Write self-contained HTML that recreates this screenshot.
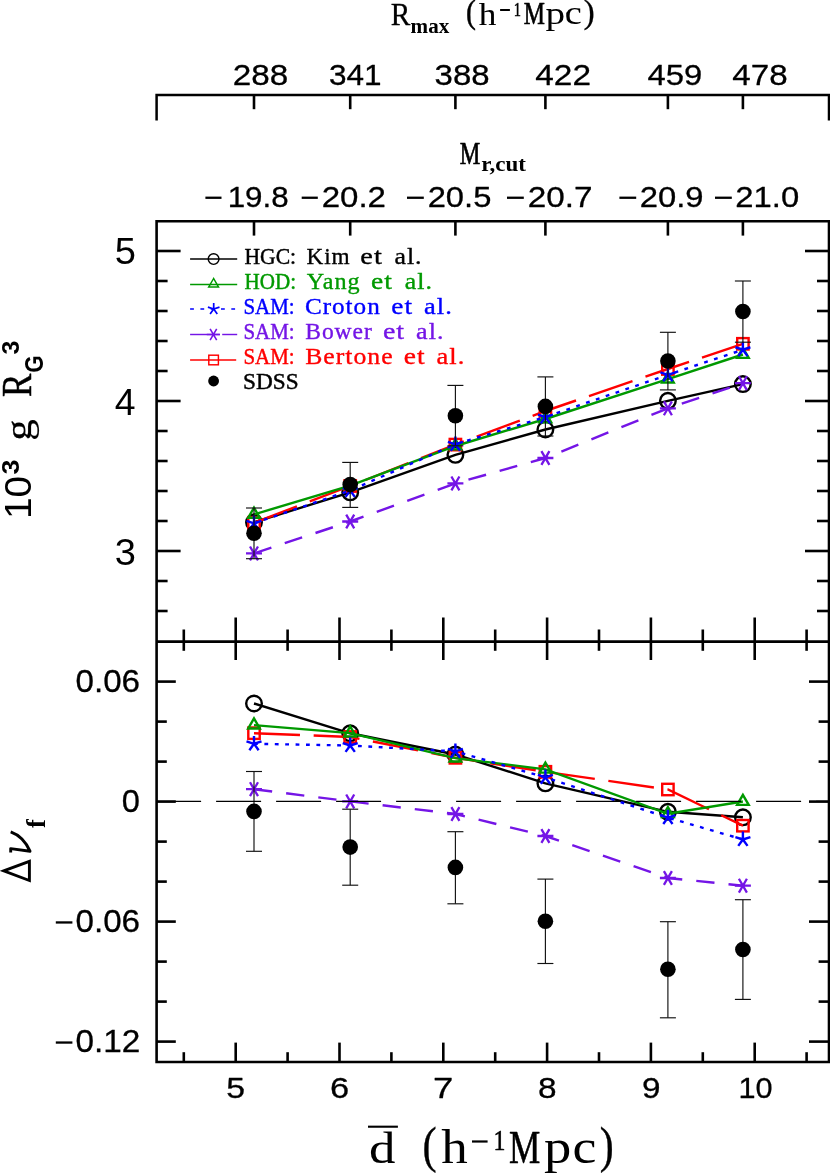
<!DOCTYPE html>
<html><head><meta charset="utf-8"><style>
html,body{margin:0;padding:0;background:#fff;}
svg{display:block;will-change:transform;}
text{white-space:pre;}
</style></head><body>
<svg width="830" height="1174" viewBox="0 0 830 1174">
<rect width="830" height="1174" fill="#fff"/>
<path d="M156.6,120.5 V95.0 H829.0 V120.5" stroke="#000" stroke-width="2.5" fill="none" stroke-linejoin="miter"/>
<path d="M156.6,221.3 H829.0 V1062.0 H156.6 Z" stroke="#000" stroke-width="2.6" fill="none" stroke-linejoin="miter"/>
<line x1="156.60" y1="641.65" x2="829.00" y2="641.65" stroke="#000" stroke-width="2.9" />
<line x1="254.00" y1="95.00" x2="254.00" y2="109.20" stroke="#000" stroke-width="2.6" />
<line x1="254.00" y1="221.30" x2="254.00" y2="235.60" stroke="#000" stroke-width="2.6" />
<line x1="350.20" y1="95.00" x2="350.20" y2="109.20" stroke="#000" stroke-width="2.6" />
<line x1="350.20" y1="221.30" x2="350.20" y2="235.60" stroke="#000" stroke-width="2.6" />
<line x1="455.40" y1="95.00" x2="455.40" y2="109.20" stroke="#000" stroke-width="2.6" />
<line x1="455.40" y1="221.30" x2="455.40" y2="235.60" stroke="#000" stroke-width="2.6" />
<line x1="545.40" y1="95.00" x2="545.40" y2="109.20" stroke="#000" stroke-width="2.6" />
<line x1="545.40" y1="221.30" x2="545.40" y2="235.60" stroke="#000" stroke-width="2.6" />
<line x1="667.90" y1="95.00" x2="667.90" y2="109.20" stroke="#000" stroke-width="2.6" />
<line x1="667.90" y1="221.30" x2="667.90" y2="235.60" stroke="#000" stroke-width="2.6" />
<line x1="742.90" y1="95.00" x2="742.90" y2="109.20" stroke="#000" stroke-width="2.6" />
<line x1="742.90" y1="221.30" x2="742.90" y2="235.60" stroke="#000" stroke-width="2.6" />
<line x1="183.80" y1="629.50" x2="183.80" y2="650.80" stroke="#000" stroke-width="2.6" />
<line x1="183.80" y1="1062.00" x2="183.80" y2="1052.20" stroke="#000" stroke-width="2.6" />
<line x1="235.70" y1="617.50" x2="235.70" y2="660.00" stroke="#000" stroke-width="2.6" />
<line x1="235.70" y1="1062.00" x2="235.70" y2="1042.60" stroke="#000" stroke-width="2.6" />
<line x1="287.60" y1="629.50" x2="287.60" y2="650.80" stroke="#000" stroke-width="2.6" />
<line x1="287.60" y1="1062.00" x2="287.60" y2="1052.20" stroke="#000" stroke-width="2.6" />
<line x1="339.50" y1="617.50" x2="339.50" y2="660.00" stroke="#000" stroke-width="2.6" />
<line x1="339.50" y1="1062.00" x2="339.50" y2="1042.60" stroke="#000" stroke-width="2.6" />
<line x1="391.40" y1="629.50" x2="391.40" y2="650.80" stroke="#000" stroke-width="2.6" />
<line x1="391.40" y1="1062.00" x2="391.40" y2="1052.20" stroke="#000" stroke-width="2.6" />
<line x1="443.30" y1="617.50" x2="443.30" y2="660.00" stroke="#000" stroke-width="2.6" />
<line x1="443.30" y1="1062.00" x2="443.30" y2="1042.60" stroke="#000" stroke-width="2.6" />
<line x1="495.20" y1="629.50" x2="495.20" y2="650.80" stroke="#000" stroke-width="2.6" />
<line x1="495.20" y1="1062.00" x2="495.20" y2="1052.20" stroke="#000" stroke-width="2.6" />
<line x1="547.10" y1="617.50" x2="547.10" y2="660.00" stroke="#000" stroke-width="2.6" />
<line x1="547.10" y1="1062.00" x2="547.10" y2="1042.60" stroke="#000" stroke-width="2.6" />
<line x1="599.00" y1="629.50" x2="599.00" y2="650.80" stroke="#000" stroke-width="2.6" />
<line x1="599.00" y1="1062.00" x2="599.00" y2="1052.20" stroke="#000" stroke-width="2.6" />
<line x1="650.90" y1="617.50" x2="650.90" y2="660.00" stroke="#000" stroke-width="2.6" />
<line x1="650.90" y1="1062.00" x2="650.90" y2="1042.60" stroke="#000" stroke-width="2.6" />
<line x1="702.80" y1="629.50" x2="702.80" y2="650.80" stroke="#000" stroke-width="2.6" />
<line x1="702.80" y1="1062.00" x2="702.80" y2="1052.20" stroke="#000" stroke-width="2.6" />
<line x1="754.70" y1="617.50" x2="754.70" y2="660.00" stroke="#000" stroke-width="2.6" />
<line x1="754.70" y1="1062.00" x2="754.70" y2="1042.60" stroke="#000" stroke-width="2.6" />
<line x1="806.60" y1="629.50" x2="806.60" y2="650.80" stroke="#000" stroke-width="2.6" />
<line x1="806.60" y1="1062.00" x2="806.60" y2="1052.20" stroke="#000" stroke-width="2.6" />
<line x1="156.60" y1="251.00" x2="180.60" y2="251.00" stroke="#000" stroke-width="2.6" />
<line x1="829.00" y1="251.00" x2="805.00" y2="251.00" stroke="#000" stroke-width="2.6" />
<line x1="156.60" y1="281.00" x2="167.60" y2="281.00" stroke="#000" stroke-width="2.6" />
<line x1="829.00" y1="281.00" x2="817.00" y2="281.00" stroke="#000" stroke-width="2.6" />
<line x1="156.60" y1="311.00" x2="167.60" y2="311.00" stroke="#000" stroke-width="2.6" />
<line x1="829.00" y1="311.00" x2="817.00" y2="311.00" stroke="#000" stroke-width="2.6" />
<line x1="156.60" y1="341.00" x2="167.60" y2="341.00" stroke="#000" stroke-width="2.6" />
<line x1="829.00" y1="341.00" x2="817.00" y2="341.00" stroke="#000" stroke-width="2.6" />
<line x1="156.60" y1="371.00" x2="167.60" y2="371.00" stroke="#000" stroke-width="2.6" />
<line x1="829.00" y1="371.00" x2="817.00" y2="371.00" stroke="#000" stroke-width="2.6" />
<line x1="156.60" y1="401.00" x2="180.60" y2="401.00" stroke="#000" stroke-width="2.6" />
<line x1="829.00" y1="401.00" x2="805.00" y2="401.00" stroke="#000" stroke-width="2.6" />
<line x1="156.60" y1="431.00" x2="167.60" y2="431.00" stroke="#000" stroke-width="2.6" />
<line x1="829.00" y1="431.00" x2="817.00" y2="431.00" stroke="#000" stroke-width="2.6" />
<line x1="156.60" y1="461.00" x2="167.60" y2="461.00" stroke="#000" stroke-width="2.6" />
<line x1="829.00" y1="461.00" x2="817.00" y2="461.00" stroke="#000" stroke-width="2.6" />
<line x1="156.60" y1="491.00" x2="167.60" y2="491.00" stroke="#000" stroke-width="2.6" />
<line x1="829.00" y1="491.00" x2="817.00" y2="491.00" stroke="#000" stroke-width="2.6" />
<line x1="156.60" y1="521.00" x2="167.60" y2="521.00" stroke="#000" stroke-width="2.6" />
<line x1="829.00" y1="521.00" x2="817.00" y2="521.00" stroke="#000" stroke-width="2.6" />
<line x1="156.60" y1="551.00" x2="180.60" y2="551.00" stroke="#000" stroke-width="2.6" />
<line x1="829.00" y1="551.00" x2="805.00" y2="551.00" stroke="#000" stroke-width="2.6" />
<line x1="156.60" y1="581.00" x2="167.60" y2="581.00" stroke="#000" stroke-width="2.6" />
<line x1="829.00" y1="581.00" x2="817.00" y2="581.00" stroke="#000" stroke-width="2.6" />
<line x1="156.60" y1="611.00" x2="167.60" y2="611.00" stroke="#000" stroke-width="2.6" />
<line x1="829.00" y1="611.00" x2="817.00" y2="611.00" stroke="#000" stroke-width="2.6" />
<line x1="156.60" y1="681.60" x2="175.80" y2="681.60" stroke="#000" stroke-width="2.6" />
<line x1="829.00" y1="681.60" x2="809.00" y2="681.60" stroke="#000" stroke-width="2.6" />
<line x1="156.60" y1="721.60" x2="166.80" y2="721.60" stroke="#000" stroke-width="2.6" />
<line x1="829.00" y1="721.60" x2="818.60" y2="721.60" stroke="#000" stroke-width="2.6" />
<line x1="156.60" y1="761.60" x2="166.80" y2="761.60" stroke="#000" stroke-width="2.6" />
<line x1="829.00" y1="761.60" x2="818.60" y2="761.60" stroke="#000" stroke-width="2.6" />
<line x1="156.60" y1="801.60" x2="175.80" y2="801.60" stroke="#000" stroke-width="2.6" />
<line x1="829.00" y1="801.60" x2="809.00" y2="801.60" stroke="#000" stroke-width="2.6" />
<line x1="156.60" y1="841.60" x2="166.80" y2="841.60" stroke="#000" stroke-width="2.6" />
<line x1="829.00" y1="841.60" x2="818.60" y2="841.60" stroke="#000" stroke-width="2.6" />
<line x1="156.60" y1="881.60" x2="166.80" y2="881.60" stroke="#000" stroke-width="2.6" />
<line x1="829.00" y1="881.60" x2="818.60" y2="881.60" stroke="#000" stroke-width="2.6" />
<line x1="156.60" y1="921.60" x2="175.80" y2="921.60" stroke="#000" stroke-width="2.6" />
<line x1="829.00" y1="921.60" x2="809.00" y2="921.60" stroke="#000" stroke-width="2.6" />
<line x1="156.60" y1="961.60" x2="166.80" y2="961.60" stroke="#000" stroke-width="2.6" />
<line x1="829.00" y1="961.60" x2="818.60" y2="961.60" stroke="#000" stroke-width="2.6" />
<line x1="156.60" y1="1001.60" x2="166.80" y2="1001.60" stroke="#000" stroke-width="2.6" />
<line x1="829.00" y1="1001.60" x2="818.60" y2="1001.60" stroke="#000" stroke-width="2.6" />
<line x1="156.60" y1="1041.60" x2="175.80" y2="1041.60" stroke="#000" stroke-width="2.6" />
<line x1="829.00" y1="1041.60" x2="809.00" y2="1041.60" stroke="#000" stroke-width="2.6" />
<polyline points="254.0,522.3 350.2,492.3 455.4,454.8 545.4,429.5 667.9,400.8 742.9,384.1" fill="none" stroke="#000" stroke-width="2.4"  stroke-dashoffset="0"/>
<circle cx="254.0" cy="522.3" r="7.8" fill="none" stroke="#000" stroke-width="2.4"/>
<circle cx="350.2" cy="492.3" r="7.8" fill="none" stroke="#000" stroke-width="2.4"/>
<circle cx="455.4" cy="454.8" r="7.8" fill="none" stroke="#000" stroke-width="2.4"/>
<circle cx="545.4" cy="429.5" r="7.8" fill="none" stroke="#000" stroke-width="2.4"/>
<circle cx="667.9" cy="400.8" r="7.8" fill="none" stroke="#000" stroke-width="2.4"/>
<circle cx="742.9" cy="384.1" r="7.8" fill="none" stroke="#000" stroke-width="2.4"/>
<polyline points="254.0,522.8 350.2,486.0 455.4,444.6 545.4,411.0 667.9,369.0 742.9,343.8" fill="none" stroke="#ff0000" stroke-width="2.4" stroke-dasharray="46 13.7" stroke-dashoffset="0"/>
<rect x="248.30" y="517.10" width="11.4" height="11.4" fill="none" stroke="#ff0000" stroke-width="2.4"/>
<rect x="344.50" y="480.30" width="11.4" height="11.4" fill="none" stroke="#ff0000" stroke-width="2.4"/>
<rect x="449.70" y="438.90" width="11.4" height="11.4" fill="none" stroke="#ff0000" stroke-width="2.4"/>
<rect x="539.70" y="405.30" width="11.4" height="11.4" fill="none" stroke="#ff0000" stroke-width="2.4"/>
<rect x="662.20" y="363.30" width="11.4" height="11.4" fill="none" stroke="#ff0000" stroke-width="2.4"/>
<rect x="737.20" y="338.10" width="11.4" height="11.4" fill="none" stroke="#ff0000" stroke-width="2.4"/>
<polyline points="254.0,514.4 350.2,485.7 455.4,446.0 545.4,419.0 667.9,379.1 742.9,354.5" fill="none" stroke="#009900" stroke-width="2.4"  stroke-dashoffset="0"/>
<polygon points="254.00,507.70 248.20,517.75 259.80,517.75" fill="none" stroke="#009900" stroke-width="2.4" stroke-linejoin="miter"/>
<polygon points="350.20,479.00 344.40,489.05 356.00,489.05" fill="none" stroke="#009900" stroke-width="2.4" stroke-linejoin="miter"/>
<polygon points="455.40,439.30 449.60,449.35 461.20,449.35" fill="none" stroke="#009900" stroke-width="2.4" stroke-linejoin="miter"/>
<polygon points="545.40,412.30 539.60,422.35 551.20,422.35" fill="none" stroke="#009900" stroke-width="2.4" stroke-linejoin="miter"/>
<polygon points="667.90,372.40 662.10,382.45 673.70,382.45" fill="none" stroke="#009900" stroke-width="2.4" stroke-linejoin="miter"/>
<polygon points="742.90,347.80 737.10,357.85 748.70,357.85" fill="none" stroke="#009900" stroke-width="2.4" stroke-linejoin="miter"/>
<polyline points="254.0,523.3 350.2,490.5 455.4,444.3 545.4,417.0 667.9,374.8 742.9,349.7" fill="none" stroke="#0000ff" stroke-width="2.4" stroke-dasharray="3.8 6.6" stroke-dashoffset="0"/>
<path d="M254.00,523.30L254.00,515.40M254.00,523.30L261.51,520.86M254.00,523.30L258.64,529.69M254.00,523.30L249.36,529.69M254.00,523.30L246.49,520.86" stroke="#0000ff" stroke-width="2.4" fill="none"/>
<path d="M350.20,490.50L350.20,482.60M350.20,490.50L357.71,488.06M350.20,490.50L354.84,496.89M350.20,490.50L345.56,496.89M350.20,490.50L342.69,488.06" stroke="#0000ff" stroke-width="2.4" fill="none"/>
<path d="M455.40,444.30L455.40,436.40M455.40,444.30L462.91,441.86M455.40,444.30L460.04,450.69M455.40,444.30L450.76,450.69M455.40,444.30L447.89,441.86" stroke="#0000ff" stroke-width="2.4" fill="none"/>
<path d="M545.40,417.00L545.40,409.10M545.40,417.00L552.91,414.56M545.40,417.00L550.04,423.39M545.40,417.00L540.76,423.39M545.40,417.00L537.89,414.56" stroke="#0000ff" stroke-width="2.4" fill="none"/>
<path d="M667.90,374.80L667.90,366.90M667.90,374.80L675.41,372.36M667.90,374.80L672.54,381.19M667.90,374.80L663.26,381.19M667.90,374.80L660.39,372.36" stroke="#0000ff" stroke-width="2.4" fill="none"/>
<path d="M742.90,349.70L742.90,341.80M742.90,349.70L750.41,347.26M742.90,349.70L747.54,356.09M742.90,349.70L738.26,356.09M742.90,349.70L735.39,347.26" stroke="#0000ff" stroke-width="2.4" fill="none"/>
<polyline points="254.0,553.4 350.2,521.5 455.4,483.4 545.4,458.0 667.9,408.3 742.9,383.2" fill="none" stroke="#7415e6" stroke-width="2.4" stroke-dasharray="18.3 14.1" stroke-dashoffset="0"/>
<path d="M246.00,553.40L262.00,553.40M250.00,546.47L258.00,560.33M258.00,546.47L250.00,560.33" stroke="#7415e6" stroke-width="2.3" fill="none"/>
<path d="M342.20,521.50L358.20,521.50M346.20,514.57L354.20,528.43M354.20,514.57L346.20,528.43" stroke="#7415e6" stroke-width="2.3" fill="none"/>
<path d="M447.40,483.40L463.40,483.40M451.40,476.47L459.40,490.33M459.40,476.47L451.40,490.33" stroke="#7415e6" stroke-width="2.3" fill="none"/>
<path d="M537.40,458.00L553.40,458.00M541.40,451.07L549.40,464.93M549.40,451.07L541.40,464.93" stroke="#7415e6" stroke-width="2.3" fill="none"/>
<path d="M659.90,408.30L675.90,408.30M663.90,401.37L671.90,415.23M671.90,401.37L663.90,415.23" stroke="#7415e6" stroke-width="2.3" fill="none"/>
<path d="M734.90,383.20L750.90,383.20M738.90,376.27L746.90,390.13M746.90,376.27L738.90,390.13" stroke="#7415e6" stroke-width="2.3" fill="none"/>
<line x1="254.00" y1="508.00" x2="254.00" y2="558.70" stroke="#111" stroke-width="1.15" />
<line x1="246.00" y1="508.00" x2="262.00" y2="508.00" stroke="#111" stroke-width="1.15" />
<line x1="246.00" y1="558.70" x2="262.00" y2="558.70" stroke="#111" stroke-width="1.15" />
<line x1="350.20" y1="462.40" x2="350.20" y2="507.40" stroke="#111" stroke-width="1.15" />
<line x1="342.20" y1="462.40" x2="358.20" y2="462.40" stroke="#111" stroke-width="1.15" />
<line x1="342.20" y1="507.40" x2="358.20" y2="507.40" stroke="#111" stroke-width="1.15" />
<line x1="455.40" y1="385.40" x2="455.40" y2="445.80" stroke="#111" stroke-width="1.15" />
<line x1="447.40" y1="385.40" x2="463.40" y2="385.40" stroke="#111" stroke-width="1.15" />
<line x1="447.40" y1="445.80" x2="463.40" y2="445.80" stroke="#111" stroke-width="1.15" />
<line x1="545.40" y1="376.90" x2="545.40" y2="436.00" stroke="#111" stroke-width="1.15" />
<line x1="537.40" y1="376.90" x2="553.40" y2="376.90" stroke="#111" stroke-width="1.15" />
<line x1="537.40" y1="436.00" x2="553.40" y2="436.00" stroke="#111" stroke-width="1.15" />
<line x1="667.90" y1="332.30" x2="667.90" y2="389.90" stroke="#111" stroke-width="1.15" />
<line x1="659.90" y1="332.30" x2="675.90" y2="332.30" stroke="#111" stroke-width="1.15" />
<line x1="659.90" y1="389.90" x2="675.90" y2="389.90" stroke="#111" stroke-width="1.15" />
<line x1="742.90" y1="281.00" x2="742.90" y2="342.20" stroke="#111" stroke-width="1.15" />
<line x1="734.90" y1="281.00" x2="750.90" y2="281.00" stroke="#111" stroke-width="1.15" />
<line x1="734.90" y1="342.20" x2="750.90" y2="342.20" stroke="#111" stroke-width="1.15" />
<circle cx="254.0" cy="533.3" r="7.8" fill="#000"/>
<circle cx="350.2" cy="484.6" r="7.8" fill="#000"/>
<circle cx="455.4" cy="415.8" r="7.8" fill="#000"/>
<circle cx="545.4" cy="406.4" r="7.8" fill="#000"/>
<circle cx="667.9" cy="361.0" r="7.8" fill="#000"/>
<circle cx="742.9" cy="311.5" r="7.8" fill="#000"/>
<polyline points="254.0,703.5 350.2,733.3 455.4,754.5 545.4,783.3 667.9,811.8 742.9,817.3" fill="none" stroke="#000" stroke-width="2.4"  stroke-dashoffset="0"/>
<circle cx="254.0" cy="703.5" r="7.8" fill="none" stroke="#000" stroke-width="2.4"/>
<circle cx="350.2" cy="733.3" r="7.8" fill="none" stroke="#000" stroke-width="2.4"/>
<circle cx="455.4" cy="754.5" r="7.8" fill="none" stroke="#000" stroke-width="2.4"/>
<circle cx="545.4" cy="783.3" r="7.8" fill="none" stroke="#000" stroke-width="2.4"/>
<circle cx="667.9" cy="811.8" r="7.8" fill="none" stroke="#000" stroke-width="2.4"/>
<circle cx="742.9" cy="817.3" r="7.8" fill="none" stroke="#000" stroke-width="2.4"/>
<polyline points="254.0,733.2 350.2,737.0 455.4,757.8 545.4,771.8 667.9,789.5 742.9,825.7" fill="none" stroke="#ff0000" stroke-width="2.4" stroke-dasharray="46 13.7" stroke-dashoffset="0"/>
<rect x="248.30" y="727.50" width="11.4" height="11.4" fill="none" stroke="#ff0000" stroke-width="2.4"/>
<rect x="344.50" y="731.30" width="11.4" height="11.4" fill="none" stroke="#ff0000" stroke-width="2.4"/>
<rect x="449.70" y="752.10" width="11.4" height="11.4" fill="none" stroke="#ff0000" stroke-width="2.4"/>
<rect x="539.70" y="766.10" width="11.4" height="11.4" fill="none" stroke="#ff0000" stroke-width="2.4"/>
<rect x="662.20" y="783.80" width="11.4" height="11.4" fill="none" stroke="#ff0000" stroke-width="2.4"/>
<rect x="737.20" y="820.00" width="11.4" height="11.4" fill="none" stroke="#ff0000" stroke-width="2.4"/>
<polyline points="254.0,725.1 350.2,733.1 455.4,758.1 545.4,769.3 667.9,813.8 742.9,801.5" fill="none" stroke="#009900" stroke-width="2.4"  stroke-dashoffset="0"/>
<polygon points="254.00,718.40 248.20,728.45 259.80,728.45" fill="none" stroke="#009900" stroke-width="2.4" stroke-linejoin="miter"/>
<polygon points="350.20,726.40 344.40,736.45 356.00,736.45" fill="none" stroke="#009900" stroke-width="2.4" stroke-linejoin="miter"/>
<polygon points="455.40,751.40 449.60,761.45 461.20,761.45" fill="none" stroke="#009900" stroke-width="2.4" stroke-linejoin="miter"/>
<polygon points="545.40,762.60 539.60,772.65 551.20,772.65" fill="none" stroke="#009900" stroke-width="2.4" stroke-linejoin="miter"/>
<polygon points="667.90,807.10 662.10,817.15 673.70,817.15" fill="none" stroke="#009900" stroke-width="2.4" stroke-linejoin="miter"/>
<polygon points="742.90,794.80 737.10,804.85 748.70,804.85" fill="none" stroke="#009900" stroke-width="2.4" stroke-linejoin="miter"/>
<polyline points="254.0,743.8 350.2,745.5 455.4,751.4 545.4,777.4 667.9,817.6 742.9,839.5" fill="none" stroke="#0000ff" stroke-width="2.4" stroke-dasharray="3.8 6.6" stroke-dashoffset="0"/>
<path d="M254.00,743.80L254.00,735.90M254.00,743.80L261.51,741.36M254.00,743.80L258.64,750.19M254.00,743.80L249.36,750.19M254.00,743.80L246.49,741.36" stroke="#0000ff" stroke-width="2.4" fill="none"/>
<path d="M350.20,745.50L350.20,737.60M350.20,745.50L357.71,743.06M350.20,745.50L354.84,751.89M350.20,745.50L345.56,751.89M350.20,745.50L342.69,743.06" stroke="#0000ff" stroke-width="2.4" fill="none"/>
<path d="M455.40,751.40L455.40,743.50M455.40,751.40L462.91,748.96M455.40,751.40L460.04,757.79M455.40,751.40L450.76,757.79M455.40,751.40L447.89,748.96" stroke="#0000ff" stroke-width="2.4" fill="none"/>
<path d="M545.40,777.40L545.40,769.50M545.40,777.40L552.91,774.96M545.40,777.40L550.04,783.79M545.40,777.40L540.76,783.79M545.40,777.40L537.89,774.96" stroke="#0000ff" stroke-width="2.4" fill="none"/>
<path d="M667.90,817.60L667.90,809.70M667.90,817.60L675.41,815.16M667.90,817.60L672.54,823.99M667.90,817.60L663.26,823.99M667.90,817.60L660.39,815.16" stroke="#0000ff" stroke-width="2.4" fill="none"/>
<path d="M742.90,839.50L742.90,831.60M742.90,839.50L750.41,837.06M742.90,839.50L747.54,845.89M742.90,839.50L738.26,845.89M742.90,839.50L735.39,837.06" stroke="#0000ff" stroke-width="2.4" fill="none"/>
<polyline points="254.0,789.2 350.2,801.4 455.4,814.0 545.4,836.0 667.9,878.0 742.9,885.7" fill="none" stroke="#7415e6" stroke-width="2.4" stroke-dasharray="18.3 14.1" stroke-dashoffset="0"/>
<path d="M246.00,789.20L262.00,789.20M250.00,782.27L258.00,796.13M258.00,782.27L250.00,796.13" stroke="#7415e6" stroke-width="2.3" fill="none"/>
<path d="M342.20,801.40L358.20,801.40M346.20,794.47L354.20,808.33M354.20,794.47L346.20,808.33" stroke="#7415e6" stroke-width="2.3" fill="none"/>
<path d="M447.40,814.00L463.40,814.00M451.40,807.07L459.40,820.93M459.40,807.07L451.40,820.93" stroke="#7415e6" stroke-width="2.3" fill="none"/>
<path d="M537.40,836.00L553.40,836.00M541.40,829.07L549.40,842.93M549.40,829.07L541.40,842.93" stroke="#7415e6" stroke-width="2.3" fill="none"/>
<path d="M659.90,878.00L675.90,878.00M663.90,871.07L671.90,884.93M671.90,871.07L663.90,884.93" stroke="#7415e6" stroke-width="2.3" fill="none"/>
<path d="M734.90,885.70L750.90,885.70M738.90,878.77L746.90,892.63M746.90,878.77L738.90,892.63" stroke="#7415e6" stroke-width="2.3" fill="none"/>
<line x1="254.00" y1="771.50" x2="254.00" y2="851.30" stroke="#111" stroke-width="1.15" />
<line x1="246.00" y1="771.50" x2="262.00" y2="771.50" stroke="#111" stroke-width="1.15" />
<line x1="246.00" y1="851.30" x2="262.00" y2="851.30" stroke="#111" stroke-width="1.15" />
<line x1="350.20" y1="809.20" x2="350.20" y2="885.20" stroke="#111" stroke-width="1.15" />
<line x1="342.20" y1="809.20" x2="358.20" y2="809.20" stroke="#111" stroke-width="1.15" />
<line x1="342.20" y1="885.20" x2="358.20" y2="885.20" stroke="#111" stroke-width="1.15" />
<line x1="455.40" y1="831.70" x2="455.40" y2="903.80" stroke="#111" stroke-width="1.15" />
<line x1="447.40" y1="831.70" x2="463.40" y2="831.70" stroke="#111" stroke-width="1.15" />
<line x1="447.40" y1="903.80" x2="463.40" y2="903.80" stroke="#111" stroke-width="1.15" />
<line x1="545.40" y1="879.10" x2="545.40" y2="963.50" stroke="#111" stroke-width="1.15" />
<line x1="537.40" y1="879.10" x2="553.40" y2="879.10" stroke="#111" stroke-width="1.15" />
<line x1="537.40" y1="963.50" x2="553.40" y2="963.50" stroke="#111" stroke-width="1.15" />
<line x1="667.90" y1="921.70" x2="667.90" y2="1017.80" stroke="#111" stroke-width="1.15" />
<line x1="659.90" y1="921.70" x2="675.90" y2="921.70" stroke="#111" stroke-width="1.15" />
<line x1="659.90" y1="1017.80" x2="675.90" y2="1017.80" stroke="#111" stroke-width="1.15" />
<line x1="742.90" y1="899.70" x2="742.90" y2="999.40" stroke="#111" stroke-width="1.15" />
<line x1="734.90" y1="899.70" x2="750.90" y2="899.70" stroke="#111" stroke-width="1.15" />
<line x1="734.90" y1="999.40" x2="750.90" y2="999.40" stroke="#111" stroke-width="1.15" />
<circle cx="254.0" cy="811.4" r="7.8" fill="#000"/>
<circle cx="350.2" cy="847.1" r="7.8" fill="#000"/>
<circle cx="455.4" cy="867.4" r="7.8" fill="#000"/>
<circle cx="545.4" cy="921.3" r="7.8" fill="#000"/>
<circle cx="667.9" cy="969.2" r="7.8" fill="#000"/>
<circle cx="742.9" cy="949.5" r="7.8" fill="#000"/>
<line x1="156.60" y1="801.30" x2="829.00" y2="801.30" stroke="#000" stroke-width="1.2" stroke-dasharray="45 15" stroke-dashoffset="0.5"/>
<line x1="190.10" y1="259.00" x2="237.20" y2="259.00" stroke="#000" stroke-width="1.45" />
<circle cx="213.6" cy="259.0" r="5.35" fill="none" stroke="#000" stroke-width="1.45"/>
<line x1="190.10" y1="284.40" x2="237.20" y2="284.40" stroke="#009900" stroke-width="1.45" />
<polygon points="213.60,278.50 208.66,287.05 218.54,287.05" fill="none" stroke="#009900" stroke-width="1.45" stroke-linejoin="miter"/>
<line x1="190.10" y1="309.00" x2="237.20" y2="309.00" stroke="#0000ff" stroke-width="1.45" stroke-dasharray="3.8 6.5"/>
<path d="M213.70,309.00L213.70,302.90M213.70,309.00L219.50,307.11M213.70,309.00L217.29,313.94M213.70,309.00L210.11,313.94M213.70,309.00L207.90,307.11" stroke="#0000ff" stroke-width="1.7" fill="none"/>
<line x1="190.10" y1="334.50" x2="219.70" y2="334.50" stroke="#7415e6" stroke-width="1.45" />
<line x1="222.20" y1="334.50" x2="237.20" y2="334.50" stroke="#7415e6" stroke-width="1.45" />
<path d="M206.80,334.50L220.00,334.50M210.10,328.78L216.70,340.22M216.70,328.78L210.10,340.22" stroke="#7415e6" stroke-width="1.6" fill="none"/>
<line x1="190.10" y1="360.00" x2="236.20" y2="360.00" stroke="#ff0000" stroke-width="1.45" />
<rect x="208.80" y="355.20" width="9.6" height="9.6" fill="none" stroke="#ff0000" stroke-width="1.45"/>
<circle cx="213.6" cy="381.0" r="5.4" fill="#000"/>
<text transform="translate(244.40,264.00) scale(0.9493,1)" font-family="Liberation Serif" font-size="22.80" font-weight="normal" font-style="normal" fill="#000"  stroke="#000" stroke-width="0.45" stroke-linejoin="round">HGC:</text>
<text transform="translate(306.46,264.00) scale(1.0204,1)" font-family="Liberation Serif" font-size="22.80" font-weight="normal" font-style="normal" fill="#000"  stroke="#000" stroke-width="0.35" stroke-linejoin="round" letter-spacing="0.9">Kim</text>
<text transform="translate(360.27,264.00) scale(1.2418,1)" font-family="Liberation Serif" font-size="22.80" font-weight="normal" font-style="normal" fill="#000"  stroke="#000" stroke-width="0.35" stroke-linejoin="round" letter-spacing="0.9">et</text>
<text transform="translate(394.40,264.00) scale(1.1340,1)" font-family="Liberation Serif" font-size="22.80" font-weight="normal" font-style="normal" fill="#000"  stroke="#000" stroke-width="0.35" stroke-linejoin="round" letter-spacing="0.9">al.</text>
<text transform="translate(244.42,289.00) scale(0.9269,1)" font-family="Liberation Serif" font-size="22.80" font-weight="normal" font-style="normal" fill="#009900"  stroke="#009900" stroke-width="0.45" stroke-linejoin="round">HOD:</text>
<text transform="translate(306.86,289.00) scale(1.0591,1)" font-family="Liberation Serif" font-size="22.80" font-weight="normal" font-style="normal" fill="#009900"  stroke="#009900" stroke-width="0.35" stroke-linejoin="round" letter-spacing="0.9">Yang</text>
<text transform="translate(371.00,289.00) scale(1.2051,1)" font-family="Liberation Serif" font-size="22.80" font-weight="normal" font-style="normal" fill="#009900"  stroke="#009900" stroke-width="0.35" stroke-linejoin="round" letter-spacing="0.9">et</text>
<text transform="translate(404.80,289.00) scale(1.1340,1)" font-family="Liberation Serif" font-size="22.80" font-weight="normal" font-style="normal" fill="#009900"  stroke="#009900" stroke-width="0.35" stroke-linejoin="round" letter-spacing="0.9">al.</text>
<text transform="translate(243.39,314.20) scale(0.9182,1)" font-family="Liberation Serif" font-size="22.80" font-weight="normal" font-style="normal" fill="#0000ff"  stroke="#0000ff" stroke-width="0.45" stroke-linejoin="round">SAM:</text>
<text transform="translate(304.89,314.20) scale(1.1041,1)" font-family="Liberation Serif" font-size="22.80" font-weight="normal" font-style="normal" fill="#0000ff"  stroke="#0000ff" stroke-width="0.35" stroke-linejoin="round" letter-spacing="0.9">Croton</text>
<text transform="translate(391.31,314.20) scale(1.1990,1)" font-family="Liberation Serif" font-size="22.80" font-weight="normal" font-style="normal" fill="#0000ff"  stroke="#0000ff" stroke-width="0.35" stroke-linejoin="round" letter-spacing="0.9">et</text>
<text transform="translate(424.07,314.20) scale(1.1617,1)" font-family="Liberation Serif" font-size="22.80" font-weight="normal" font-style="normal" fill="#0000ff"  stroke="#0000ff" stroke-width="0.35" stroke-linejoin="round" letter-spacing="0.9">al.</text>
<text transform="translate(243.39,339.00) scale(0.9182,1)" font-family="Liberation Serif" font-size="22.80" font-weight="normal" font-style="normal" fill="#7415e6"  stroke="#7415e6" stroke-width="0.45" stroke-linejoin="round">SAM:</text>
<text transform="translate(305.25,339.00) scale(1.0336,1)" font-family="Liberation Serif" font-size="22.80" font-weight="normal" font-style="normal" fill="#7415e6"  stroke="#7415e6" stroke-width="0.35" stroke-linejoin="round" letter-spacing="0.9">Bower</text>
<text transform="translate(382.88,339.00) scale(1.2235,1)" font-family="Liberation Serif" font-size="22.80" font-weight="normal" font-style="normal" fill="#7415e6"  stroke="#7415e6" stroke-width="0.35" stroke-linejoin="round" letter-spacing="0.9">et</text>
<text transform="translate(416.09,339.00) scale(1.1432,1)" font-family="Liberation Serif" font-size="22.80" font-weight="normal" font-style="normal" fill="#7415e6"  stroke="#7415e6" stroke-width="0.35" stroke-linejoin="round" letter-spacing="0.9">al.</text>
<text transform="translate(243.39,364.20) scale(0.9182,1)" font-family="Liberation Serif" font-size="22.80" font-weight="normal" font-style="normal" fill="#ff0000"  stroke="#ff0000" stroke-width="0.45" stroke-linejoin="round">SAM:</text>
<text transform="translate(305.19,364.20) scale(1.1274,1)" font-family="Liberation Serif" font-size="22.80" font-weight="normal" font-style="normal" fill="#ff0000"  stroke="#ff0000" stroke-width="0.35" stroke-linejoin="round" letter-spacing="0.9">Bertone</text>
<text transform="translate(403.70,364.20) scale(1.2051,1)" font-family="Liberation Serif" font-size="22.80" font-weight="normal" font-style="normal" fill="#ff0000"  stroke="#ff0000" stroke-width="0.35" stroke-linejoin="round" letter-spacing="0.9">et</text>
<text transform="translate(436.57,364.20) scale(1.1617,1)" font-family="Liberation Serif" font-size="22.80" font-weight="normal" font-style="normal" fill="#ff0000"  stroke="#ff0000" stroke-width="0.35" stroke-linejoin="round" letter-spacing="0.9">al.</text>
<text transform="translate(243.03,389.40) scale(1.0197,1)" font-family="Liberation Serif" font-size="22.80" font-weight="normal" font-style="normal" fill="#000"  stroke="#000" stroke-width="0.45" stroke-linejoin="round">SDSS</text>
<text transform="translate(390.69,24.60) scale(0.9106,1)" font-family="Liberation Serif" font-size="32.21" font-weight="normal" font-style="normal" fill="#000"  stroke="#000" stroke-width="0.3" stroke-linejoin="round">R</text>
<text transform="translate(410.62,33.10) scale(0.9711,1)" font-family="Liberation Serif" font-size="21.74" font-weight="bold" font-style="normal" fill="#000" >max</text>
<text transform="translate(465.93,23.40) scale(0.9076,1)" font-family="Liberation Serif" font-size="32.95" font-weight="normal" font-style="normal" fill="#000"  stroke="#000" stroke-width="0.45" stroke-linejoin="round">(</text>
<text transform="translate(478.85,24.50) scale(1.1217,1)" font-family="Liberation Serif" font-size="31.37" font-weight="normal" font-style="normal" fill="#000"  stroke="#000" stroke-width="0.11" stroke-linejoin="round">h</text>
<text transform="translate(523.65,24.40) scale(0.7383,1)" font-family="Liberation Serif" font-size="32.21" font-weight="normal" font-style="normal" fill="#000"  stroke="#000" stroke-width="0.72" stroke-linejoin="round">M</text>
<text transform="translate(545.41,24.01) scale(1.2412,1)" font-family="Liberation Serif" font-size="31.50" font-weight="normal" font-style="normal" fill="#000" >p</text>
<text transform="translate(564.66,24.47) scale(1.1666,1)" font-family="Liberation Serif" font-size="32.92" font-weight="normal" font-style="normal" fill="#000"  stroke="#000" stroke-width="0.03" stroke-linejoin="round">c</text>
<text transform="translate(583.40,23.40) scale(1.0255,1)" font-family="Liberation Serif" font-size="32.95" font-weight="normal" font-style="normal" fill="#000"  stroke="#000" stroke-width="0.26" stroke-linejoin="round">)</text>
<rect x="500.1" y="9.0" width="9.8" height="2.0" fill="#000"/>
<text transform="translate(513.73,16.30) scale(0.7345,1)" font-family="Liberation Serif" font-size="19.70" font-weight="normal" font-style="normal" fill="#000"  stroke="#000" stroke-width="0.5" stroke-linejoin="round">1</text>
<text transform="translate(232.84,85.10) scale(1.0948,1)" font-family="Liberation Sans" font-size="30.39" font-weight="normal" font-style="normal" fill="#000"  stroke="#000" stroke-width="0.3" stroke-linejoin="round">288</text>
<text transform="translate(329.02,85.10) scale(1.0376,1)" font-family="Liberation Sans" font-size="30.39" font-weight="normal" font-style="normal" fill="#000"  stroke="#000" stroke-width="0.3" stroke-linejoin="round">341</text>
<text transform="translate(434.56,85.10) scale(1.0862,1)" font-family="Liberation Sans" font-size="30.39" font-weight="normal" font-style="normal" fill="#000"  stroke="#000" stroke-width="0.3" stroke-linejoin="round">388</text>
<text transform="translate(535.25,85.10) scale(1.0997,1)" font-family="Liberation Sans" font-size="30.39" font-weight="normal" font-style="normal" fill="#000"  stroke="#000" stroke-width="0.3" stroke-linejoin="round">422</text>
<text transform="translate(647.56,85.10) scale(1.0777,1)" font-family="Liberation Sans" font-size="30.39" font-weight="normal" font-style="normal" fill="#000"  stroke="#000" stroke-width="0.3" stroke-linejoin="round">459</text>
<text transform="translate(732.25,85.10) scale(1.0925,1)" font-family="Liberation Sans" font-size="30.39" font-weight="normal" font-style="normal" fill="#000"  stroke="#000" stroke-width="0.3" stroke-linejoin="round">478</text>
<text transform="translate(459.67,163.70) scale(0.7092,1)" font-family="Liberation Serif" font-size="32.52" font-weight="normal" font-style="normal" fill="#000"  stroke="#000" stroke-width="0.75" stroke-linejoin="round">M</text>
<text transform="translate(481.37,171.30) scale(1.0928,1)" font-family="Liberation Serif" font-size="21.09" font-weight="bold" font-style="normal" fill="#000" >r,cut</text>
<rect x="205.39999999999998" y="196.6" width="16.1" height="2.3" fill="#000"/>
<text transform="translate(227.65,207.31) scale(1.0769,1)" font-family="Liberation Sans" font-size="29.12" font-weight="normal" font-style="normal" fill="#000"  stroke="#000" stroke-width="0.3" stroke-linejoin="round">19.8</text>
<rect x="301.7" y="196.6" width="16.1" height="2.3" fill="#000"/>
<text transform="translate(321.65,207.31) scale(1.1355,1)" font-family="Liberation Sans" font-size="29.12" font-weight="normal" font-style="normal" fill="#000"  stroke="#000" stroke-width="0.3" stroke-linejoin="round">20.2</text>
<rect x="407.0" y="196.6" width="16.8" height="2.3" fill="#000"/>
<text transform="translate(427.66,207.31) scale(1.1238,1)" font-family="Liberation Sans" font-size="29.12" font-weight="normal" font-style="normal" fill="#000"  stroke="#000" stroke-width="0.3" stroke-linejoin="round">20.5</text>
<rect x="507.0" y="196.6" width="16.8" height="2.3" fill="#000"/>
<text transform="translate(527.64,207.31) scale(1.1430,1)" font-family="Liberation Sans" font-size="29.12" font-weight="normal" font-style="normal" fill="#000"  stroke="#000" stroke-width="0.3" stroke-linejoin="round">20.7</text>
<rect x="619.4000000000001" y="196.6" width="16.8" height="2.3" fill="#000"/>
<text transform="translate(639.66,207.31) scale(1.1269,1)" font-family="Liberation Sans" font-size="29.12" font-weight="normal" font-style="normal" fill="#000"  stroke="#000" stroke-width="0.3" stroke-linejoin="round">20.9</text>
<rect x="715.0" y="196.6" width="16.8" height="2.3" fill="#000"/>
<text transform="translate(735.36,207.31) scale(1.1279,1)" font-family="Liberation Sans" font-size="29.12" font-weight="normal" font-style="normal" fill="#000"  stroke="#000" stroke-width="0.3" stroke-linejoin="round">21.0</text>
<text transform="translate(114.78,263.83) scale(1.0290,1)" font-family="Liberation Sans" font-size="37.03" font-weight="normal" font-style="normal" fill="#000" >5</text>
<text transform="translate(114.66,414.64) scale(1.0343,1)" font-family="Liberation Sans" font-size="36.18" font-weight="normal" font-style="normal" fill="#000" >4</text>
<text transform="translate(114.87,564.64) scale(1.0449,1)" font-family="Liberation Sans" font-size="36.47" font-weight="normal" font-style="normal" fill="#000" >3</text>
<text transform="translate(75.47,692.39) scale(1.0671,1)" font-family="Liberation Sans" font-size="31.10" font-weight="normal" font-style="normal" fill="#000"  stroke="#000" stroke-width="0.3" stroke-linejoin="round">0.06</text>
<text transform="translate(121.69,812.39) scale(1.0506,1)" font-family="Liberation Sans" font-size="31.10" font-weight="normal" font-style="normal" fill="#000"  stroke="#000" stroke-width="0.3" stroke-linejoin="round">0</text>
<text transform="translate(75.47,932.19) scale(1.0671,1)" font-family="Liberation Sans" font-size="31.10" font-weight="normal" font-style="normal" fill="#000"  stroke="#000" stroke-width="0.3" stroke-linejoin="round">0.06</text>
<text transform="translate(75.47,1052.39) scale(1.0714,1)" font-family="Liberation Sans" font-size="31.10" font-weight="normal" font-style="normal" fill="#000"  stroke="#000" stroke-width="0.3" stroke-linejoin="round">0.12</text>
<rect x="55.8" y="921.3" width="16.6" height="2.3" fill="#000"/>
<rect x="55.8" y="1041.4" width="16.6" height="2.3" fill="#000"/>
<text transform="translate(226.25,1098.00) scale(1.1084,1)" font-family="Liberation Sans" font-size="30.39" font-weight="normal" font-style="normal" fill="#000"  stroke="#000" stroke-width="0.3" stroke-linejoin="round">5</text>
<text transform="translate(329.88,1098.00) scale(1.1313,1)" font-family="Liberation Sans" font-size="30.39" font-weight="normal" font-style="normal" fill="#000"  stroke="#000" stroke-width="0.3" stroke-linejoin="round">6</text>
<text transform="translate(432.98,1098.00) scale(1.2006,1)" font-family="Liberation Sans" font-size="30.39" font-weight="normal" font-style="normal" fill="#000"  stroke="#000" stroke-width="0.3" stroke-linejoin="round">7</text>
<text transform="translate(537.88,1098.00) scale(1.0992,1)" font-family="Liberation Sans" font-size="30.39" font-weight="normal" font-style="normal" fill="#000"  stroke="#000" stroke-width="0.3" stroke-linejoin="round">8</text>
<text transform="translate(642.02,1098.00) scale(1.0957,1)" font-family="Liberation Sans" font-size="30.39" font-weight="normal" font-style="normal" fill="#000"  stroke="#000" stroke-width="0.3" stroke-linejoin="round">9</text>
<text transform="translate(738.50,1098.00) scale(1.0095,1)" font-family="Liberation Sans" font-size="30.39" font-weight="normal" font-style="normal" fill="#000"  stroke="#000" stroke-width="0.3" stroke-linejoin="round">10</text>
<rect x="368.0" y="1125.65" width="29.9" height="2.1" fill="#000"/>
<text transform="translate(368.95,1163.15) scale(1.1673,1)" font-family="Liberation Serif" font-size="45.25" font-weight="normal" font-style="normal" fill="#000" >d</text>
<text transform="translate(422.50,1162.15) scale(0.8443,1)" font-family="Liberation Serif" font-size="50.14" font-weight="normal" font-style="normal" fill="#000"  stroke="#000" stroke-width="0.39" stroke-linejoin="round">(</text>
<text transform="translate(441.17,1163.20) scale(1.1025,1)" font-family="Liberation Serif" font-size="48.06" font-weight="normal" font-style="normal" fill="#000" >h</text>
<text transform="translate(509.03,1163.20) scale(0.7412,1)" font-family="Liberation Serif" font-size="47.48" font-weight="normal" font-style="normal" fill="#000"  stroke="#000" stroke-width="0.62" stroke-linejoin="round">M</text>
<text transform="translate(543.98,1163.15) scale(1.1432,1)" font-family="Liberation Serif" font-size="47.77" font-weight="normal" font-style="normal" fill="#000" >p</text>
<text transform="translate(572.48,1163.31) scale(1.1003,1)" font-family="Liberation Serif" font-size="48.96" font-weight="normal" font-style="normal" fill="#000" >c</text>
<text transform="translate(599.84,1162.15) scale(0.8365,1)" font-family="Liberation Serif" font-size="50.14" font-weight="normal" font-style="normal" fill="#000"  stroke="#000" stroke-width="0.41" stroke-linejoin="round">)</text>
<rect x="472.0" y="1140.4" width="15.6" height="2.2" fill="#000"/>
<text transform="translate(493.61,1150.10) scale(0.7943,1)" font-family="Liberation Serif" font-size="30.00" font-weight="normal" font-style="normal" fill="#000"  stroke="#000" stroke-width="0.6" stroke-linejoin="round">1</text>
<text transform="translate(31.03,516.00) rotate(-90) translate(-2.90,0) scale(1.0331,1)" font-family="Liberation Sans" font-size="37.46" font-weight="normal" font-style="normal" fill="#000" >10</text>
<text transform="translate(18.50,473.80) rotate(-90) translate(-0.61,0) scale(1.1249,1)" font-family="Liberation Sans" font-size="23.94" font-weight="bold" font-style="normal" fill="#000" >3</text>
<text transform="translate(31.18,439.00) rotate(-90) translate(-1.83,0) scale(1.1245,1)" font-family="Liberation Serif" font-size="38.21" font-weight="normal" font-style="normal" fill="#000"  stroke="#000" stroke-width="0.2" stroke-linejoin="round">g</text>
<text transform="translate(31.30,396.00) rotate(-90) translate(-0.96,0) scale(0.8272,1)" font-family="Liberation Serif" font-size="42.29" font-weight="normal" font-style="normal" fill="#000"  stroke="#000" stroke-width="0.5" stroke-linejoin="round">R</text>
<text transform="translate(42.64,371.90) rotate(-90) translate(-0.90,0) scale(0.8520,1)" font-family="Liberation Sans" font-size="26.43" font-weight="bold" font-style="normal" fill="#000" >G</text>
<text transform="translate(18.50,354.00) rotate(-90) translate(-0.57,0) scale(1.0494,1)" font-family="Liberation Sans" font-size="23.94" font-weight="bold" font-style="normal" fill="#000" >3</text>
<polygon points="3.6,870.9 29.4,861.3 29.4,880.5" fill="none" stroke="#000" stroke-width="2.9" stroke-linejoin="miter"/>
<path d="M10.7,852.4 L10.7,848.6 L30.0,851.2 Q23.5,836.5 10.7,831.9" fill="none" stroke="#000" stroke-width="2.9" stroke-linejoin="round" stroke-linecap="butt"/>
<text transform="translate(44.50,827.90) rotate(-90) translate(-0.20,0) scale(0.9508,1)" font-family="Liberation Serif" font-size="27.94" font-weight="bold" font-style="normal" fill="#000" >f</text>
</svg></body></html>
